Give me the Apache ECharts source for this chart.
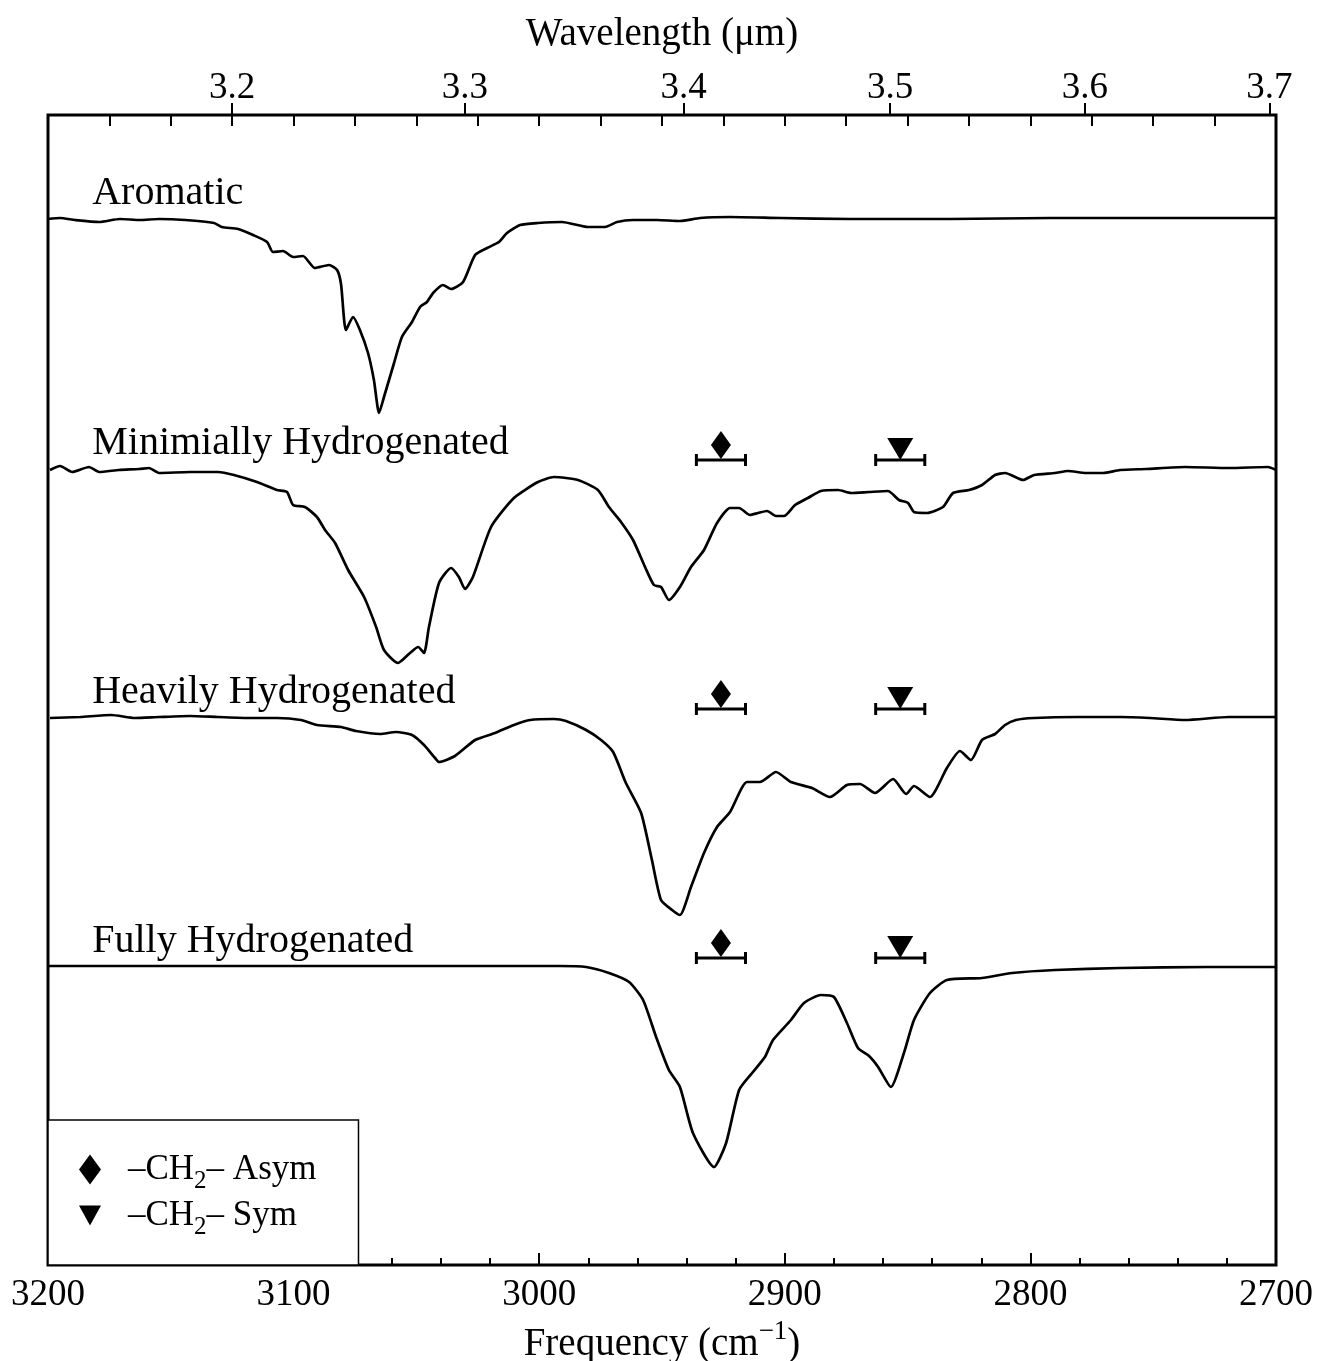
<!DOCTYPE html>
<html>
<head>
<meta charset="utf-8">
<script src="https://cdn.jsdelivr.net/npm/echarts@6/dist/echarts.min.js"></script>
<style>
  html, body { margin: 0; padding: 0; background: #fff; }
  #chart { width: 1321px; height: 1361px; }
</style>
</head>
<body>
<div id="chart"></div>
<script>
// spectrum labels and vertical offsets (arbitrary units)
const names = ['Aromatic', 'Minimially Hydrogenated', 'Heavily Hydrogenated', 'Fully Hydrogenated'];
const offsets = [104.7, 79.7, 54.8, 29.9];

// [frequency cm-1, depth relative to baseline]
const aromatic = [
  [3200, -0.1], [3195.1, 0], [3189.0, -0.2], [3179.2, -0.4], [3170.7, -0.1], [3162.5, -0.2],
  [3154.8, -0.1], [3144.2, -0.2], [3132.4, -0.5], [3129.2, -0.9], [3122.6, -1.1], [3116.5, -1.7],
  [3110.8, -2.4], [3108.4, -3.4], [3104.3, -3.3], [3100.2, -3.9], [3096.2, -3.8], [3091.3, -5.0],
  [3085.6, -4.7], [3082.3, -5.2], [3080.7, -6.6], [3078.7, -11.2], [3075.8, -9.9], [3073.0, -11.2],
  [3069.7, -13.5], [3067.3, -16.2], [3065.2, -19.5], [3063.2, -17.9], [3059.1, -14.5], [3055.9, -11.9],
  [3051.8, -10.4], [3048.5, -8.9], [3045.7, -8.4], [3043.2, -7.5], [3039.2, -6.7], [3035.9, -7.1],
  [3031.0, -6.4], [3026.1, -3.7], [3021.2, -3.0], [3016.4, -2.4], [3013.1, -1.5], [3007.8, -0.7],
  [3000.5, -0.5], [2990.7, -0.4], [2980.1, -0.9], [2973.2, -0.9], [2968.3, -0.4], [2961.8, -0.2],
  [2952.0, -0.2], [2942.7, -0.3], [2934.5, 0], [2922.3, 0.1], [2901.9, 0], [2873.4, -0.1],
  [2832.7, -0.1], [2792.0, 0], [2751.3, 0], [2700, 0]
];
const minimal = [
  [3199.2, -0.2], [3195.1, 0.2], [3190.2, -0.4], [3183.3, 0.1], [3179.2, -0.4], [3171.1, -0.2],
  [3162.9, -0.1], [3158.9, 0], [3154.8, -0.5], [3142.2, -0.4], [3130.8, -0.4], [3124.3, -0.7],
  [3114.9, -1.4], [3106.8, -2.2], [3102.7, -2.4], [3100.2, -3.7], [3095.4, -3.9], [3090.5, -4.9],
  [3087.2, -6.2], [3083.1, -7.5], [3077.8, -10.2], [3071.3, -12.9], [3066.4, -15.9], [3063.2, -18.2],
  [3057.5, -19.5], [3052.6, -18.5], [3049.3, -17.9], [3046.9, -18.5], [3044.9, -15.9], [3040.8, -11.5],
  [3035.9, -10.0], [3032.7, -10.9], [3030.2, -12.1], [3027.0, -10.9], [3019.6, -5.9], [3010.3, -3.0],
  [3000.5, -1.4], [2994.0, -0.9], [2984.2, -1.2], [2976.1, -2.2], [2971.6, -3.9], [2966.7, -5.4],
  [2961.8, -7.2], [2956.9, -9.9], [2953.3, -11.7], [2950.4, -11.9], [2947.2, -13.2], [2942.7, -11.9],
  [2938.2, -9.9], [2932.9, -8.2], [2927.6, -5.5], [2922.3, -4.0], [2918.6, -4.0], [2914.2, -4.7],
  [2910.9, -4.5], [2907.2, -4.3], [2903.6, -4.8], [2900.3, -4.8], [2895.8, -3.7], [2890.6, -3.0],
  [2885.3, -2.3], [2878.3, -2.2], [2873.0, -2.5], [2865.7, -2.4], [2858.0, -2.3], [2853.5, -3.2],
  [2849.8, -3.5], [2847.4, -4.4], [2842.1, -4.5], [2835.6, -3.9], [2831.5, -2.5], [2825.0, -2.2],
  [2819.7, -1.7], [2814.4, -0.7], [2810.3, -0.5], [2803.0, -1.2], [2798.5, -0.7], [2790.0, -0.5],
  [2784.7, -0.3], [2777.4, -0.5], [2770.4, -0.5], [2763.5, -0.2], [2752.9, -0.1], [2737.0, 0.1],
  [2719.1, 0], [2703.3, 0.1], [2700, -0.2]
];
const heavy = [
  [3199.2, -0.1], [3187.0, 0], [3174.3, 0.2], [3164.6, -0.1], [3154.8, 0], [3142.2, 0.1],
  [3130.8, 0], [3117.8, -0.1], [3106.8, -0.1], [3097.0, -0.3], [3090.5, -0.8], [3080.7, -1.0],
  [3074.6, -1.4], [3064.8, -1.7], [3058.3, -1.5], [3051.8, -1.8], [3046.9, -2.8], [3042.4, -4.1],
  [3040.8, -4.5], [3034.3, -3.9], [3026.1, -2.3], [3018.0, -1.6], [3010.3, -0.8], [3003.7, -0.3],
  [2994.0, -0.2], [2989.1, -0.4], [2980.9, -1.3], [2974.8, -2.3], [2969.9, -3.5], [2964.7, -6.6],
  [2958.5, -9.6], [2954.1, -14.3], [2950.4, -18.3], [2945.9, -19.3], [2942.7, -19.8], [2938.2, -17.0],
  [2932.9, -13.6], [2927.6, -11.0], [2922.3, -9.5], [2915.4, -6.5], [2910.1, -6.5], [2903.6, -5.5],
  [2897.5, -6.5], [2888.9, -7.1], [2881.6, -8.0], [2874.7, -6.8], [2869.4, -6.7], [2863.3, -7.6],
  [2855.9, -6.2], [2850.6, -7.7], [2847.4, -6.9], [2840.9, -8.0], [2834.0, -5.1], [2828.7, -3.4],
  [2824.2, -4.3], [2819.7, -2.3], [2814.4, -1.7], [2810.3, -0.8], [2805.9, -0.3], [2798.5, -0.1],
  [2781.0, 0], [2763.5, 0], [2751.3, -0.1], [2737.0, -0.3], [2719.1, 0], [2700, 0]
];
const full = [
  [3200, 0], [3138.1, 0], [3056.7, 0], [2991.5, 0], [2980.9, -0.1], [2971.6, -0.7],
  [2963.4, -1.6], [2957.7, -3.4], [2952.4, -7.1], [2947.2, -10.4], [2942.7, -12.1], [2937.4, -16.7],
  [2928.8, -20.1], [2923.9, -17.7], [2918.6, -12.4], [2913.3, -10.7], [2908.1, -9.1], [2904.8, -7.4],
  [2897.5, -5.4], [2892.2, -3.7], [2885.3, -2.9], [2880.0, -3.1], [2874.7, -5.7], [2870.2, -8.2],
  [2865.7, -9.0], [2862.0, -10.1], [2856.8, -12.1], [2851.5, -8.7], [2847.4, -5.4], [2840.9, -2.7],
  [2834.0, -1.4], [2819.7, -1.2], [2807.5, -0.7], [2790.0, -0.4], [2763.5, -0.2], [2728.1, -0.1],
  [2700, -0.1]
];
const spectra = [aromatic, minimal, heavy, full];

// -CH2- band positions and their width bars
const asymCenter = 2926;
const symCenter = 2853;
const bandHalfWidth = 10;
const bandRows = [1, 2, 3];
const bandLift = 0.8;

const wavelengthTicks = [3.2, 3.3, 3.4, 3.5, 3.6, 3.7];

const serif = 'Liberation Serif';
const chart = echarts.init(document.getElementById('chart'));

const lineSeries = spectra.map((s, i) => ({
  name: names[i],
  type: 'line',
  data: s.map(d => [d[0], offsets[i] + d[1]]),
  showSymbol: false,
  smooth: 0.2,
  lineStyle: { color: '#000', width: 2.7 },
  silent: true
}));

const barData = [];
bandRows.forEach(r => {
  barData.push([asymCenter, offsets[r] + bandLift, bandHalfWidth]);
  barData.push([symCenter, offsets[r] + bandLift, bandHalfWidth]);
});

const option = {
  animation: false,
  backgroundColor: '#fff',
  grid: {
    left: 48, right: 45, top: 115, bottom: 96, outerBoundsMode: 'none',
    show: true, borderColor: '#000', borderWidth: 3
  },
  xAxis: [
    {
      type: 'value', position: 'bottom', min: 2700, max: 3200, interval: 100, inverse: true,
      axisLine: { show: false },
      axisTick: { inside: true, length: 12, lineStyle: { color: '#000', width: 2 } },
      minorTick: { show: true, splitNumber: 5, length: 7, lineStyle: { color: '#000', width: 2 } },
      splitLine: { show: false },
      axisLabel: {
        color: '#000', fontFamily: serif, fontSize: 37, margin: 12,
        showMinLabel: true, showMaxLabel: true, formatter: v => String(v)
      },
      name: 'Frequency (cm{sup|−1})', nameLocation: 'middle', nameGap: 52,
      nameTextStyle: {
        color: '#000', fontFamily: serif, fontSize: 39,
        rich: { sup: { fontFamily: serif, fontSize: 27, color: '#000', padding: [0, 0, 24, 0] } }
      }
    },
    {
      type: 'value', position: 'top', min: 2700, max: 3200, inverse: true,
      axisLine: { show: false },
      axisTick: { inside: false, length: 12, customValues: wavelengthTicks.map(l => 10000 / l), lineStyle: { color: '#000', width: 2 } },
      splitLine: { show: false },
      axisLabel: {
        color: '#000', fontFamily: serif, fontSize: 37, margin: 8,
        customValues: wavelengthTicks.map(l => 10000 / l),
        formatter: v => (10000 / v).toFixed(1)
      },
      name: 'Wavelength (μm)', nameLocation: 'middle', nameGap: 61,
      nameTextStyle: { color: '#000', fontFamily: serif, fontSize: 39 }
    },
    {
      type: 'value', position: 'top', min: 2700, max: 3200, interval: 25, inverse: true,
      axisLine: { show: false },
      axisTick: { inside: true, length: 11, lineStyle: { color: '#000', width: 2 } },
      axisLabel: { show: false },
      splitLine: { show: false }
    }
  ],
  yAxis: { type: 'value', min: 0, max: 115, show: false },
  legend: {
    orient: 'vertical', left: 48, top: 1120,
    padding: [32, 42, 25, 31], itemGap: 4, itemWidth: 22, itemHeight: 30,
    borderColor: '#000', borderWidth: 1.5, backgroundColor: '#fff',
    data: [
      { name: 'asym', icon: 'diamond' },
      { name: 'sym', icon: 'path://M0,0L20,0L10,18Z' }
    ],
    formatter: n => n === 'asym' ? '–CH{sub|2}– Asym' : '–CH{sub|2}– Sym',
    textStyle: {
      color: '#000', fontFamily: serif, fontSize: 35, padding: [0, 0, 0, 22],
      rich: { sub: { fontFamily: serif, fontSize: 25, color: '#000', padding: [24, 0, 0, 0] } }
    },
    selectedMode: false
  },
  series: lineSeries.concat([
    {
      name: 'labels', type: 'scatter', symbolSize: 0, silent: true,
      itemStyle: { opacity: 1 },
      data: names.map((n, i) => ({ name: n, value: [3182, offsets[i] + 2.5] })),
      label: { show: true, position: 'right', distance: 0, formatter: '{b}', color: '#000', fontFamily: serif, fontSize: 40 }
    },
    {
      name: 'bars', type: 'custom', silent: true,
      data: barData,
      encode: { x: 0, y: 1 },
      renderItem: function (params, api) {
        const y = api.value(1);
        const a = api.coord([api.value(0) - api.value(2), y]);
        const b = api.coord([api.value(0) + api.value(2), y]);
        const cap = 6;
        const st = { stroke: '#000', lineWidth: 3 };
        return {
          type: 'group',
          children: [
            { type: 'line', shape: { x1: a[0], y1: a[1], x2: b[0], y2: b[1] }, style: st },
            { type: 'line', shape: { x1: a[0], y1: a[1] - cap, x2: a[0], y2: a[1] + cap }, style: st },
            { type: 'line', shape: { x1: b[0], y1: b[1] - cap, x2: b[0], y2: b[1] + cap }, style: st }
          ]
        };
      }
    },
    {
      name: 'asym', type: 'scatter', symbol: 'diamond', symbolSize: [20, 28], symbolOffset: [0, -15],
      itemStyle: { color: '#000', opacity: 1 }, silent: true,
      data: bandRows.map(r => [asymCenter, offsets[r] + bandLift])
    },
    {
      name: 'sym', type: 'scatter', symbol: 'path://M0,0L20,0L10,18Z', symbolSize: [26, 22], symbolOffset: [0, -11],
      itemStyle: { color: '#000', opacity: 1 }, silent: true,
      data: bandRows.map(r => [symCenter, offsets[r] + bandLift])
    }
  ])
};

chart.setOption(option);
</script>
</body>
</html>
